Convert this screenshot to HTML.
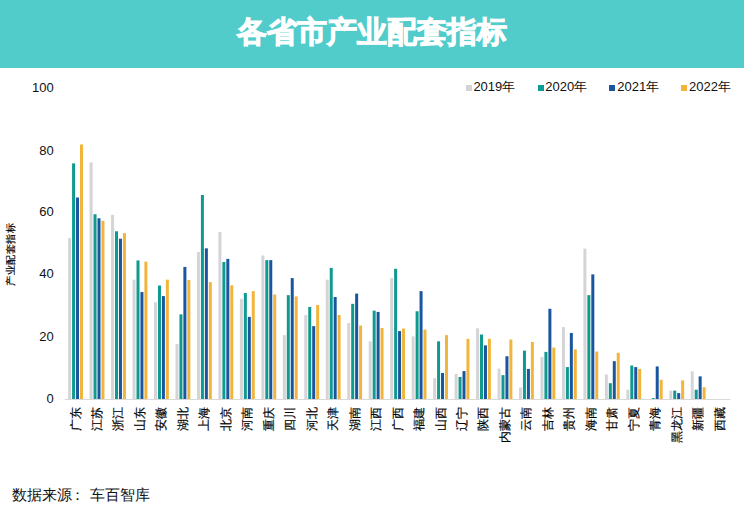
<!DOCTYPE html>
<html><head><meta charset="utf-8">
<style>
html,body{margin:0;padding:0;}
body{width:744px;height:521px;position:relative;overflow:hidden;background:#fff;font-family:"Liberation Sans",sans-serif;color:#222;}
.hdr{position:absolute;left:0;top:0;width:744px;height:68px;background:#51CCCB;}
.title{position:absolute;left:0;top:0;width:744px;height:68px;line-height:64px;text-align:center;color:#fff;font-size:29.5px;font-weight:bold;-webkit-text-stroke:1px #fff;}
.yl{position:absolute;right:690.3px;font-size:13px;line-height:16px;color:#111;}
.cat{position:absolute;top:406.5px;width:0;height:0;}
.ct{position:absolute;right:0;top:0;transform-origin:100% 0;transform:translate(-5.8px,0) rotate(-90deg);white-space:nowrap;font-size:12px;line-height:12px;color:#000;-webkit-text-stroke:0.2px #000;}
.yt{position:absolute;left:0;top:0;transform:translate(-50%,-50%) rotate(-90deg);white-space:nowrap;font-size:10px;line-height:11px;color:#000;letter-spacing:0.5px;-webkit-text-stroke:0.2px #000;}
.ytitle{position:absolute;left:9.6px;top:254px;width:0;height:0;}
.lsq{position:absolute;top:84.8px;width:6px;height:6px;}
.ltx{position:absolute;top:79px;font-size:13px;line-height:16px;color:#111;}
.src{position:absolute;left:11.5px;top:486px;font-size:15px;line-height:18px;color:#111;}
svg{position:absolute;left:0;top:0;}
</style></head><body>
<div class="hdr"></div>
<div class="title">各省市产业配套指标</div>
<div class="yl" style="top:79.6px">100</div><div class="yl" style="top:142.8px">80</div><div class="yl" style="top:204.4px">60</div><div class="yl" style="top:266.3px">40</div><div class="yl" style="top:328.9px">20</div><div class="yl" style="top:390.5px">0</div>
<div class="lsq" style="left:465.6px;background:#D5D5D8"></div><div class="ltx" style="left:473.4px">2019年</div><div class="lsq" style="left:537.5px;background:#0E9A8E"></div><div class="ltx" style="left:545.3px">2020年</div><div class="lsq" style="left:609.4px;background:#1A56A0"></div><div class="ltx" style="left:617.2px">2021年</div><div class="lsq" style="left:681.3px;background:#F2B53C"></div><div class="ltx" style="left:689.1px">2022年</div>
<svg width="744" height="521" viewBox="0 0 744 521">
<line x1="64.5" y1="399.5" x2="730.3" y2="399.5" stroke="#D9D9D9" stroke-width="1"/>
<rect x="68.13" y="238.11" width="3.0" height="160.89" fill="#D5D5D8"/><rect x="72.08" y="163.40" width="3.0" height="235.60" fill="#0E9A8E"/><rect x="76.03" y="197.50" width="3.0" height="201.50" fill="#1A56A0"/><rect x="79.98" y="144.49" width="3.0" height="254.51" fill="#F2B53C"/><rect x="89.60" y="162.47" width="3.0" height="236.53" fill="#D5D5D8"/><rect x="93.55" y="214.24" width="3.0" height="184.76" fill="#0E9A8E"/><rect x="97.50" y="218.27" width="3.0" height="180.73" fill="#1A56A0"/><rect x="101.45" y="220.75" width="3.0" height="178.25" fill="#F2B53C"/><rect x="111.07" y="214.86" width="3.0" height="184.14" fill="#D5D5D8"/><rect x="115.02" y="231.29" width="3.0" height="167.71" fill="#0E9A8E"/><rect x="118.97" y="238.73" width="3.0" height="160.27" fill="#1A56A0"/><rect x="122.92" y="233.15" width="3.0" height="165.85" fill="#F2B53C"/><rect x="132.54" y="279.65" width="3.0" height="119.35" fill="#D5D5D8"/><rect x="136.50" y="260.43" width="3.0" height="138.57" fill="#0E9A8E"/><rect x="140.44" y="292.05" width="3.0" height="106.95" fill="#1A56A0"/><rect x="144.39" y="261.67" width="3.0" height="137.33" fill="#F2B53C"/><rect x="154.01" y="302.28" width="3.0" height="96.72" fill="#D5D5D8"/><rect x="157.97" y="285.54" width="3.0" height="113.46" fill="#0E9A8E"/><rect x="161.91" y="296.08" width="3.0" height="102.92" fill="#1A56A0"/><rect x="165.86" y="279.65" width="3.0" height="119.35" fill="#F2B53C"/><rect x="175.48" y="344.13" width="3.0" height="54.87" fill="#D5D5D8"/><rect x="179.44" y="314.37" width="3.0" height="84.63" fill="#0E9A8E"/><rect x="183.38" y="266.94" width="3.0" height="132.06" fill="#1A56A0"/><rect x="187.33" y="279.96" width="3.0" height="119.04" fill="#F2B53C"/><rect x="196.96" y="252.06" width="3.0" height="146.94" fill="#D5D5D8"/><rect x="200.91" y="195.02" width="3.0" height="203.98" fill="#0E9A8E"/><rect x="204.86" y="248.34" width="3.0" height="150.66" fill="#1A56A0"/><rect x="208.81" y="282.13" width="3.0" height="116.87" fill="#F2B53C"/><rect x="218.42" y="231.91" width="3.0" height="167.09" fill="#D5D5D8"/><rect x="222.38" y="261.98" width="3.0" height="137.02" fill="#0E9A8E"/><rect x="226.32" y="258.88" width="3.0" height="140.12" fill="#1A56A0"/><rect x="230.27" y="285.23" width="3.0" height="113.77" fill="#F2B53C"/><rect x="239.90" y="298.87" width="3.0" height="100.13" fill="#D5D5D8"/><rect x="243.85" y="292.98" width="3.0" height="106.02" fill="#0E9A8E"/><rect x="247.80" y="316.85" width="3.0" height="82.15" fill="#1A56A0"/><rect x="251.75" y="291.12" width="3.0" height="107.88" fill="#F2B53C"/><rect x="261.37" y="255.47" width="3.0" height="143.53" fill="#D5D5D8"/><rect x="265.31" y="260.12" width="3.0" height="138.88" fill="#0E9A8E"/><rect x="269.26" y="260.12" width="3.0" height="138.88" fill="#1A56A0"/><rect x="273.21" y="294.53" width="3.0" height="104.47" fill="#F2B53C"/><rect x="282.84" y="335.14" width="3.0" height="63.86" fill="#D5D5D8"/><rect x="286.79" y="295.15" width="3.0" height="103.85" fill="#0E9A8E"/><rect x="290.74" y="278.10" width="3.0" height="120.90" fill="#1A56A0"/><rect x="294.69" y="296.39" width="3.0" height="102.61" fill="#F2B53C"/><rect x="304.31" y="314.99" width="3.0" height="84.01" fill="#D5D5D8"/><rect x="308.25" y="306.93" width="3.0" height="92.07" fill="#0E9A8E"/><rect x="312.20" y="326.15" width="3.0" height="72.85" fill="#1A56A0"/><rect x="316.15" y="305.07" width="3.0" height="93.93" fill="#F2B53C"/><rect x="325.78" y="279.65" width="3.0" height="119.35" fill="#D5D5D8"/><rect x="329.73" y="267.87" width="3.0" height="131.13" fill="#0E9A8E"/><rect x="333.68" y="297.01" width="3.0" height="101.99" fill="#1A56A0"/><rect x="337.62" y="314.99" width="3.0" height="84.01" fill="#F2B53C"/><rect x="347.25" y="323.05" width="3.0" height="75.95" fill="#D5D5D8"/><rect x="351.19" y="303.83" width="3.0" height="95.17" fill="#0E9A8E"/><rect x="355.14" y="293.60" width="3.0" height="105.40" fill="#1A56A0"/><rect x="359.09" y="325.53" width="3.0" height="73.47" fill="#F2B53C"/><rect x="368.72" y="341.34" width="3.0" height="57.66" fill="#D5D5D8"/><rect x="372.67" y="310.65" width="3.0" height="88.35" fill="#0E9A8E"/><rect x="376.62" y="311.89" width="3.0" height="87.11" fill="#1A56A0"/><rect x="380.56" y="328.01" width="3.0" height="70.99" fill="#F2B53C"/><rect x="390.19" y="278.10" width="3.0" height="120.90" fill="#D5D5D8"/><rect x="394.13" y="268.80" width="3.0" height="130.20" fill="#0E9A8E"/><rect x="398.08" y="331.11" width="3.0" height="67.89" fill="#1A56A0"/><rect x="402.03" y="328.63" width="3.0" height="70.37" fill="#F2B53C"/><rect x="411.66" y="336.38" width="3.0" height="62.62" fill="#D5D5D8"/><rect x="415.61" y="311.27" width="3.0" height="87.73" fill="#0E9A8E"/><rect x="419.56" y="291.12" width="3.0" height="107.88" fill="#1A56A0"/><rect x="423.50" y="329.56" width="3.0" height="69.44" fill="#F2B53C"/><rect x="433.12" y="378.23" width="3.0" height="20.77" fill="#D5D5D8"/><rect x="437.07" y="341.34" width="3.0" height="57.66" fill="#0E9A8E"/><rect x="441.02" y="372.96" width="3.0" height="26.04" fill="#1A56A0"/><rect x="444.97" y="335.14" width="3.0" height="63.86" fill="#F2B53C"/><rect x="454.60" y="373.89" width="3.0" height="25.11" fill="#D5D5D8"/><rect x="458.55" y="376.99" width="3.0" height="22.01" fill="#0E9A8E"/><rect x="462.50" y="371.10" width="3.0" height="27.90" fill="#1A56A0"/><rect x="466.44" y="338.86" width="3.0" height="60.14" fill="#F2B53C"/><rect x="476.06" y="328.32" width="3.0" height="70.68" fill="#D5D5D8"/><rect x="480.01" y="334.52" width="3.0" height="64.48" fill="#0E9A8E"/><rect x="483.96" y="345.37" width="3.0" height="53.63" fill="#1A56A0"/><rect x="487.91" y="338.86" width="3.0" height="60.14" fill="#F2B53C"/><rect x="497.54" y="368.62" width="3.0" height="30.38" fill="#D5D5D8"/><rect x="501.49" y="375.13" width="3.0" height="23.87" fill="#0E9A8E"/><rect x="505.44" y="356.22" width="3.0" height="42.78" fill="#1A56A0"/><rect x="509.38" y="339.48" width="3.0" height="59.52" fill="#F2B53C"/><rect x="519.00" y="387.53" width="3.0" height="11.47" fill="#D5D5D8"/><rect x="522.95" y="350.64" width="3.0" height="48.36" fill="#0E9A8E"/><rect x="526.90" y="368.93" width="3.0" height="30.07" fill="#1A56A0"/><rect x="530.86" y="341.96" width="3.0" height="57.04" fill="#F2B53C"/><rect x="540.48" y="357.15" width="3.0" height="41.85" fill="#D5D5D8"/><rect x="544.42" y="351.88" width="3.0" height="47.12" fill="#0E9A8E"/><rect x="548.38" y="308.79" width="3.0" height="90.21" fill="#1A56A0"/><rect x="552.33" y="347.54" width="3.0" height="51.46" fill="#F2B53C"/><rect x="561.94" y="327.08" width="3.0" height="71.92" fill="#D5D5D8"/><rect x="565.89" y="367.07" width="3.0" height="31.93" fill="#0E9A8E"/><rect x="569.84" y="332.97" width="3.0" height="66.03" fill="#1A56A0"/><rect x="573.79" y="349.40" width="3.0" height="49.60" fill="#F2B53C"/><rect x="583.41" y="248.65" width="3.0" height="150.35" fill="#D5D5D8"/><rect x="587.36" y="295.15" width="3.0" height="103.85" fill="#0E9A8E"/><rect x="591.31" y="274.38" width="3.0" height="124.62" fill="#1A56A0"/><rect x="595.26" y="351.57" width="3.0" height="47.43" fill="#F2B53C"/><rect x="604.88" y="374.51" width="3.0" height="24.49" fill="#D5D5D8"/><rect x="608.83" y="383.19" width="3.0" height="15.81" fill="#0E9A8E"/><rect x="612.78" y="361.18" width="3.0" height="37.82" fill="#1A56A0"/><rect x="616.74" y="352.81" width="3.0" height="46.19" fill="#F2B53C"/><rect x="626.35" y="389.70" width="3.0" height="9.30" fill="#D5D5D8"/><rect x="630.30" y="365.52" width="3.0" height="33.48" fill="#0E9A8E"/><rect x="634.25" y="367.07" width="3.0" height="31.93" fill="#1A56A0"/><rect x="638.20" y="368.93" width="3.0" height="30.07" fill="#F2B53C"/><rect x="651.77" y="398.07" width="3.0" height="0.93" fill="#0E9A8E"/><rect x="655.72" y="366.45" width="3.0" height="32.55" fill="#1A56A0"/><rect x="659.67" y="379.78" width="3.0" height="19.22" fill="#F2B53C"/><rect x="669.29" y="390.63" width="3.0" height="8.37" fill="#D5D5D8"/><rect x="673.24" y="390.63" width="3.0" height="8.37" fill="#0E9A8E"/><rect x="677.19" y="393.11" width="3.0" height="5.89" fill="#1A56A0"/><rect x="681.14" y="380.40" width="3.0" height="18.60" fill="#F2B53C"/><rect x="690.76" y="371.41" width="3.0" height="27.59" fill="#D5D5D8"/><rect x="694.71" y="389.70" width="3.0" height="9.30" fill="#0E9A8E"/><rect x="698.66" y="376.37" width="3.0" height="22.63" fill="#1A56A0"/><rect x="702.62" y="387.22" width="3.0" height="11.78" fill="#F2B53C"/>
</svg>
<div class="cat" style="left:75.53px"><div class="ct">广东</div></div><div class="cat" style="left:97.00px"><div class="ct">江苏</div></div><div class="cat" style="left:118.47px"><div class="ct">浙江</div></div><div class="cat" style="left:139.94px"><div class="ct">山东</div></div><div class="cat" style="left:161.41px"><div class="ct">安徽</div></div><div class="cat" style="left:182.88px"><div class="ct">湖北</div></div><div class="cat" style="left:204.36px"><div class="ct">上海</div></div><div class="cat" style="left:225.82px"><div class="ct">北京</div></div><div class="cat" style="left:247.30px"><div class="ct">河南</div></div><div class="cat" style="left:268.76px"><div class="ct">重庆</div></div><div class="cat" style="left:290.24px"><div class="ct">四川</div></div><div class="cat" style="left:311.70px"><div class="ct">河北</div></div><div class="cat" style="left:333.18px"><div class="ct">天津</div></div><div class="cat" style="left:354.64px"><div class="ct">湖南</div></div><div class="cat" style="left:376.12px"><div class="ct">江西</div></div><div class="cat" style="left:397.58px"><div class="ct">广西</div></div><div class="cat" style="left:419.06px"><div class="ct">福建</div></div><div class="cat" style="left:440.52px"><div class="ct">山西</div></div><div class="cat" style="left:462.00px"><div class="ct">辽宁</div></div><div class="cat" style="left:483.46px"><div class="ct">陕西</div></div><div class="cat" style="left:504.94px"><div class="ct">内蒙古</div></div><div class="cat" style="left:526.40px"><div class="ct">云南</div></div><div class="cat" style="left:547.88px"><div class="ct">吉林</div></div><div class="cat" style="left:569.34px"><div class="ct">贵州</div></div><div class="cat" style="left:590.81px"><div class="ct">海南</div></div><div class="cat" style="left:612.28px"><div class="ct">甘肃</div></div><div class="cat" style="left:633.75px"><div class="ct">宁夏</div></div><div class="cat" style="left:655.22px"><div class="ct">青海</div></div><div class="cat" style="left:676.69px"><div class="ct">黑龙江</div></div><div class="cat" style="left:698.16px"><div class="ct">新疆</div></div><div class="cat" style="left:719.63px"><div class="ct">西藏</div></div>
<div class="ytitle"><div class="yt">产业配套指标</div></div>
<div class="src">数据来源<span style="position:relative;left:-1.5px">：</span><span style="margin-left:3.4px">车百智库</span></div>
</body></html>
